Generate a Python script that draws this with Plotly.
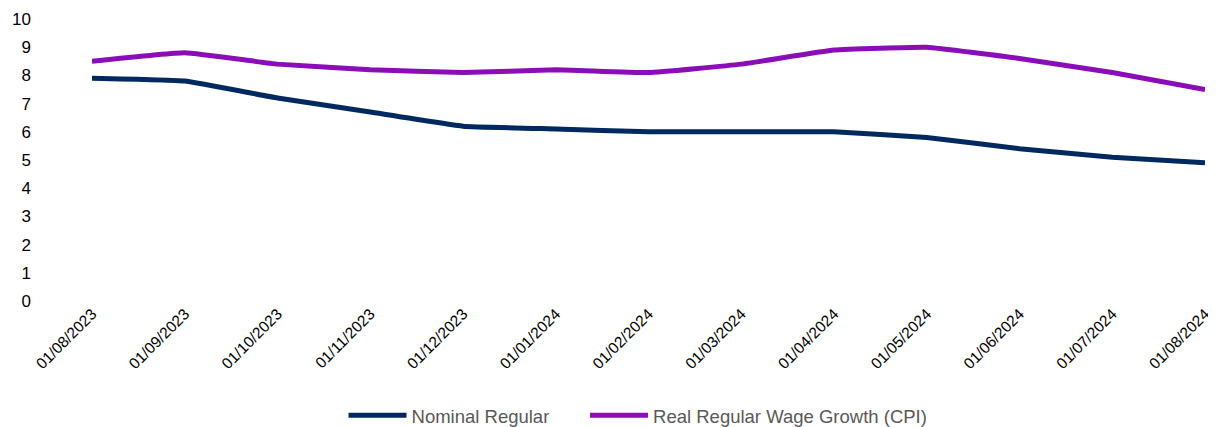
import plotly.graph_objects as go

dates = ["01/08/2023", "01/09/2023", "01/10/2023", "01/11/2023", "01/12/2023",
         "01/01/2024", "01/02/2024", "01/03/2024", "01/04/2024", "01/05/2024",
         "01/06/2024", "01/07/2024", "01/08/2024"]
nominal_regular = [7.9, 7.8, 7.2, 6.7, 6.2, 6.1, 6.0, 6.0, 6.0, 5.8, 5.4, 5.1, 4.9]
real_regular_cpi = [8.5, 8.8, 8.4, 8.2, 8.1, 8.2, 8.1, 8.4, 8.9, 9.0, 8.6, 8.1, 7.5]

y_ticks = list(range(0, 11))

fig = go.Figure()
fig.add_trace(go.Scatter(x=dates, y=nominal_regular, mode="lines", name="Nominal Regular",
                         legend="legend",
                         line=dict(color="#002960", width=5, shape="spline", smoothing=0.3)))
fig.add_trace(go.Scatter(x=dates, y=real_regular_cpi, mode="lines", name="Real Regular Wage Growth (CPI)",
                         legend="legend2",
                         line=dict(color="#8A0DB8", width=5, shape="spline", smoothing=0.3)))

legend_style = dict(orientation="h", xanchor="left", y=-0.407, yanchor="middle",
                    font=dict(size=18.5, color="#595959"), itemwidth=58)

# page body has an 8px default margin, so the figure is sized to fit inside the window
fig.update_layout(
    width=1208, height=419,
    margin=dict(l=84, r=11, t=11, b=126, autoexpand=False),
    plot_bgcolor="white", paper_bgcolor="white",
    font=dict(family="Liberation Sans, Arial, sans-serif", size=15, color="#000000"),
    showlegend=True,
    legend=dict(x=0.226, **legend_style),
    legend2=dict(x=0.443, **legend_style),
    xaxis=dict(type="category", range=[0, len(dates) - 1], showgrid=False, zeroline=False,
               showline=False, ticks="", tickangle=-45, tickfont=dict(size=15.5), automargin=False),
    yaxis=dict(range=[0, 10], tickvals=y_ticks, showgrid=False, zeroline=False,
               showline=False, ticks="", tickfont=dict(size=17), ticklabelstandoff=60,
               automargin=False),
)

fig.write_html("out.html")
